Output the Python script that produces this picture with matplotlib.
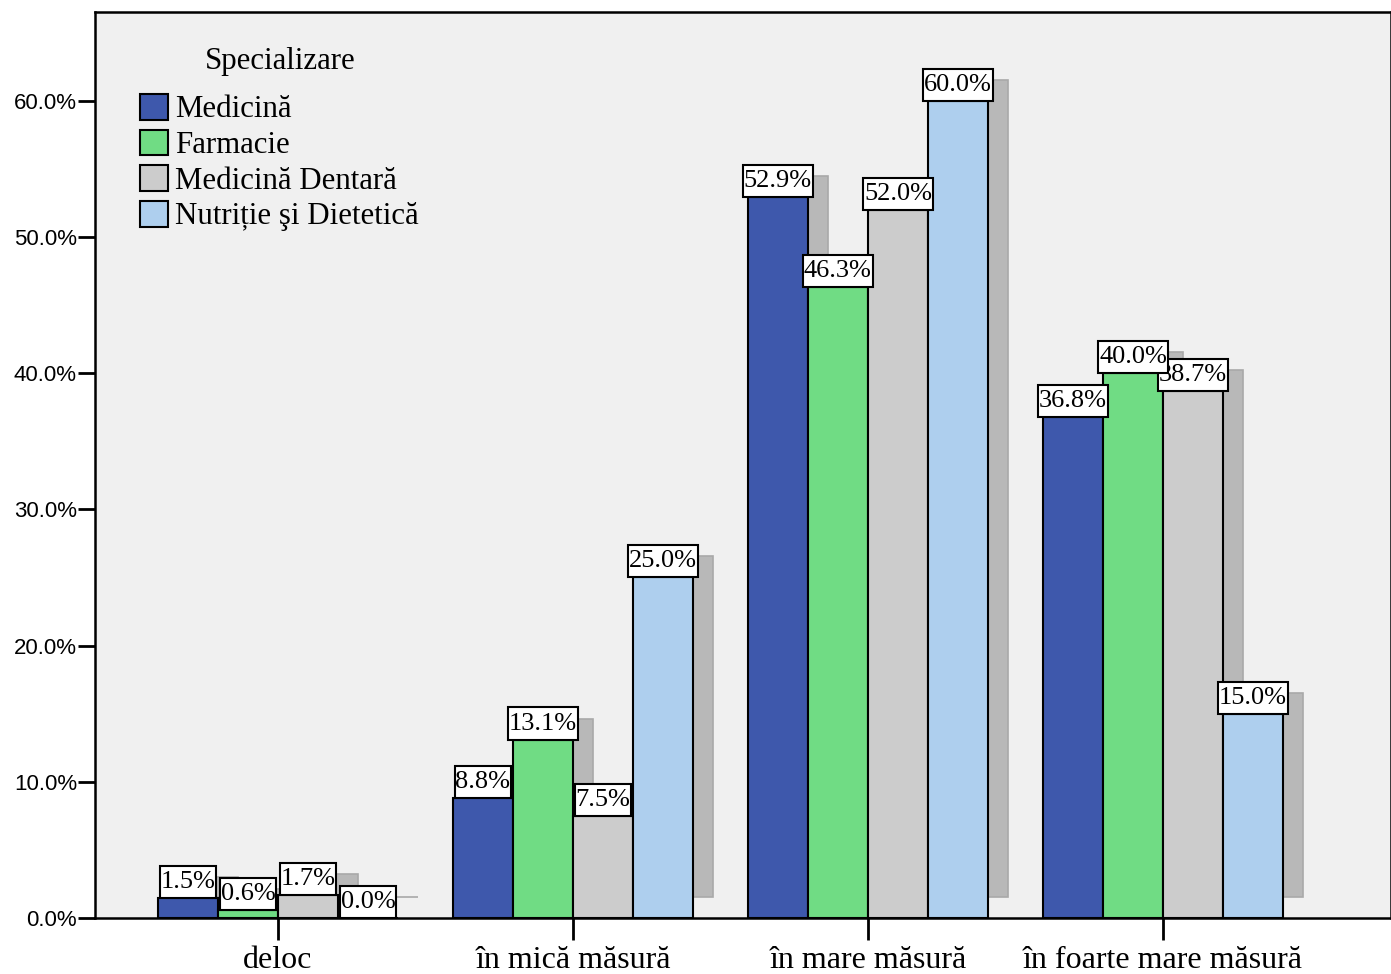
import numpy as np
import matplotlib.pyplot as plt
from matplotlib.path import Path
from matplotlib.ticker import FuncFormatter

categories = ['deloc', 'în mică măsură', 'în mare măsură', 'în foarte mare măsură']
groups = ['Medicină', 'Farmacie', 'Medicină Dentară', 'Nutriție şi Dietetică']
medicina = [1.5, 8.8, 52.9, 36.8]
farmacie = [0.6, 13.1, 46.3, 40.0]
dentara = [1.7, 7.5, 52.0, 38.7]
nutritie = [0.0, 25.0, 60.0, 15.0]
series = [medicina, farmacie, dentara, nutritie]
colors = ['#3E58AC', '#70DC84', '#CCCCCC', '#AECFEE']

SERIF = 'Liberation Serif'
SANS = 'Liberation Sans'

W = 60 / 295          # bar width in category units
DX = 20 / 295         # shadow offset x
DY = 1.54             # shadow offset y (percent)
FS = 19               # value label size
PX, PY = 0.03, 0.19   # label box padding (fraction of font size)


def tallbox(x0, y0, width, height, mutation_size):
    # rectangle with more vertical than horizontal padding
    px = PX * mutation_size
    py = PY * mutation_size
    x0, y0 = x0 - px, y0 - py
    x1, y1 = x0 + width + 2 * px, y0 + height + 2 * py
    return Path([(x0, y0), (x1, y0), (x1, y1), (x0, y1), (x0, y0)], closed=True)


fig = plt.figure(figsize=(13.91, 9.74), dpi=100)
ax = fig.add_axes([95 / 1391, 56 / 974, 1 - 95 / 1391, 906 / 974])
ax.set_facecolor('#F0F0F0')

x_axis = np.arange(len(categories))

# shadows first
for i, vals in enumerate(series):
    xs = x_axis + (i - 1.5) * W + DX
    ax.bar(xs, vals, W, bottom=DY, color='#B8B8B8', edgecolor='#A9A9A9',
           linewidth=1.2, zorder=1)

for i, vals in enumerate(series):
    xs = x_axis + (i - 1.5) * W
    ax.bar(xs, vals, W, color=colors[i], edgecolor='black', linewidth=1.5,
           label=groups[i], zorder=2)

# value labels, later series underneath
for i in reversed(range(len(series))):
    xs = x_axis + (i - 1.5) * W
    for xv, v in zip(xs, series[i]):
        ax.annotate('%.1f%%' % v, (xv, v), xytext=(0, PY * FS),
                    textcoords='offset points', ha='center', va='bottom',
                    fontsize=FS, family=SERIF,
                    bbox=dict(boxstyle=tallbox, fc='white', ec='black', lw=1.5),
                    zorder=5 + (3 - i))

ax.set_xlim(-0.62, 3.773)
ax.set_ylim(0, 66.5)
ax.set_yticks(np.arange(0, 61, 10))
ax.yaxis.set_major_formatter(FuncFormatter(lambda v, p: '%.1f%%' % v))
ax.set_xticks(x_axis)
ax.set_xticklabels(categories, family=SERIF, fontsize=23)
for t in ax.get_yticklabels():
    t.set_family(SANS)
    t.set_fontsize(16)
ax.tick_params(axis='y', length=12, width=2, pad=1)
ax.tick_params(axis='x', length=16, width=2, pad=4)
for s in ['left', 'bottom', 'top', 'right']:
    ax.spines[s].set_linewidth(1.8)

leg = ax.legend(loc='upper left', bbox_to_anchor=(0.0347, 0.9095), frameon=False,
                prop={'family': SERIF, 'size': 22.2},
                handlelength=0.9, handleheight=0.9, handletextpad=0.25,
                labelspacing=0.17, borderpad=0, borderaxespad=0)
for h in leg.legend_handles:
    h.set_linewidth(1.5)
ax.text((280 - 95) / 1296, 1 - (61 - 12) / 906, 'Specializare', transform=ax.transAxes,
        ha='center', va='center', family=SERIF, fontsize=22.2)

plt.savefig('out.png', dpi=100)
